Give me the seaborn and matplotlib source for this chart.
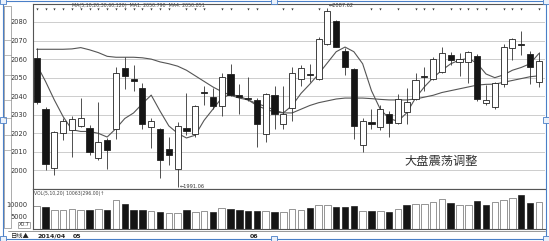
import numpy as np
import pandas as pd
import matplotlib
matplotlib.use("Agg")
import matplotlib.pyplot as plt
import seaborn as sns
from matplotlib.patches import Rectangle

# ---------------- data ----------------
opens = [2060.8, 2033.2, 2001.4, 2020.1, 2021.9, 2023.7, 2023.0, 2006.8, 2016.3, 2022.6,
         2055.0, 2049.2, 2044.4, 2023.5, 2022.6, 2011.5, 2001.0, 2023.0, 2019.9, 2042.1,
         2039.5, 2034.9, 2051.8, 2040.6, 2039.2, 2037.9, 2019.4, 2040.6, 2024.8, 2033.4,
         2049.2, 2051.9, 2049.2, 2068.0, 2080.7, 2064.4, 2054.5, 2013.6, 2026.3, 2023.5,
         2030.5, 2025.7, 2031.6, 2038.5, 2051.0, 2049.2, 2053.2, 2062.2, 2058.2, 2058.2,
         2061.7, 2036.3, 2034.0, 2046.4, 2066.2, 2068.1, 2062.6, 2047.4]
closes = [2036.7, 2003.4, 2020.5, 2026.6, 2027.5, 2028.4, 2010.0, 2015.3, 2010.9, 2052.7,
          2051.0, 2048.0, 2025.0, 2026.6, 2005.5, 2008.4, 2024.1, 2021.2, 2034.9, 2041.5,
          2034.9, 2050.3, 2040.6, 2039.5, 2038.3, 2024.9, 2041.0, 2030.4, 2030.2, 2052.7,
          2055.0, 2051.4, 2070.6, 2086.1, 2066.7, 2055.7, 2023.9, 2026.9, 2024.9, 2033.3,
          2025.4, 2038.3, 2036.7, 2048.5, 2050.4, 2059.9, 2063.1, 2059.5, 2060.0, 2064.0,
          2038.5, 2038.2, 2046.9, 2066.7, 2070.6, 2067.4, 2055.9, 2059.0]
highs = [2065.8, 2034.0, 2021.5, 2028.4, 2029.3, 2038.8, 2024.4, 2037.0, 2017.6, 2055.7,
         2061.1, 2057.0, 2047.0, 2028.0, 2023.0, 2018.1, 2026.2, 2042.0, 2035.2, 2045.5,
         2044.2, 2052.3, 2057.2, 2046.7, 2050.3, 2039.2, 2042.0, 2045.6, 2045.5, 2055.9,
         2056.8, 2057.2, 2071.7, 2087.62, 2081.0, 2066.2, 2055.0, 2028.0, 2033.0, 2035.2,
         2032.0, 2041.3, 2044.2, 2052.3, 2055.9, 2060.9, 2066.7, 2064.0, 2063.5, 2064.5,
         2062.6, 2046.0, 2047.4, 2068.0, 2071.2, 2075.3, 2064.5, 2064.0]
lows = [2036.0, 2000.0, 1997.4, 2016.3, 2007.0, 2023.3, 2008.2, 2005.5, 2001.0, 2016.7,
        2043.7, 2042.8, 2022.3, 2012.2, 1996.0, 2002.8, 1991.06, 2019.0, 2018.1, 2035.2,
        2033.0, 2029.5, 2040.3, 2030.5, 2037.6, 2012.7, 2015.4, 2022.3, 2022.6, 2026.6,
        2045.6, 2047.4, 2048.7, 2067.6, 2066.3, 2051.4, 2017.2, 2010.0, 2022.3, 2021.7,
        2018.1, 2025.0, 2025.0, 2037.9, 2042.8, 2048.7, 2052.3, 2056.8, 2051.0, 2046.9,
        2037.6, 2035.2, 2033.0, 2045.0, 2059.5, 2062.2, 2046.4, 2045.0]
ma_short = [2057.0, 2048.0, 2038.0, 2029.0, 2022.0, 2021.0, 2021.0, 2020.0, 2018.0, 2022.6,
            2028.0, 2031.0, 2036.0, 2040.6, 2032.0, 2024.0, 2020.0, 2017.5, 2019.0, 2027.0,
            2033.0, 2039.0, 2041.0, 2040.0, 2038.0, 2035.0, 2033.0, 2031.5, 2031.0, 2035.0,
            2041.5, 2046.5, 2052.0, 2058.0, 2064.0, 2066.5, 2064.0, 2057.5, 2043.0, 2033.0,
            2028.0, 2026.5, 2031.0, 2039.0, 2045.0, 2050.0, 2054.0, 2057.5, 2059.5, 2060.4,
            2057.7, 2052.0, 2050.0, 2051.5, 2054.0, 2055.5, 2057.5, 2063.0]
ma_long = [2065.3, 2065.3, 2065.3, 2065.3, 2065.5, 2066.2, 2065.0, 2063.5, 2061.5, 2061.0,
           2061.0, 2061.0, 2060.7, 2060.0, 2058.5, 2057.5, 2056.2, 2054.0, 2051.0, 2048.0,
           2045.0, 2042.5, 2040.5, 2039.0, 2038.0, 2036.0, 2034.5, 2032.5, 2031.0, 2031.0,
           2033.0, 2035.0, 2036.5, 2037.5, 2038.5, 2039.0, 2039.0, 2039.0, 2038.7, 2038.3,
           2038.0, 2038.0, 2038.0, 2038.5, 2039.5, 2040.5, 2042.0, 2043.0, 2044.0, 2045.0,
           2046.0, 2046.4, 2046.5, 2047.5, 2048.5, 2049.5, 2050.5, 2051.0]
volumes = [9300, 9000, 7800, 7800, 8200, 7700, 7700, 7900, 7800, 11900,
           9900, 7500, 7800, 7000, 6700, 6300, 6300, 7500, 6700, 7400,
           6800, 8400, 8200, 7800, 7400, 7400, 7100, 6700, 6600, 8100,
           7800, 8400, 9700, 9700, 8800, 8800, 9300, 7000, 7300, 7400,
           6800, 8200, 9600, 10000, 10000, 11100, 12300, 10500, 9700, 9700,
           11400, 9700, 10700, 11600, 12600, 13800, 10500, 10700]
vol_dir = ["up", "down", "up", "up", "up", "up", "down", "up", "down", "up",
           "down", "down", "down", "up", "down", "up", "up", "down", "up", "up",
           "down", "up", "down", "down", "down", "down", "up", "down", "up", "up",
           "up", "down", "up", "up", "down", "down", "down", "up", "down", "up",
           "down", "up", "down", "up", "up", "up", "up", "down", "up", "up",
           "down", "down", "up", "up", "up", "down", "down", "up"]
flag_idx = [0, 1, 2, 3, 4, 5, 6, 7, 8, 9, 10, 11, 12, 13, 14, 15, 17, 18, 19, 21, 22,
            24, 25, 28, 29, 32, 38, 39, 41, 43, 44, 45, 47, 48, 49, 50, 51, 53, 54, 55, 57]
price_ticks = [2000, 2010, 2020, 2030, 2040, 2050, 2060, 2070, 2080]
vol_ticks = [5000, 10000]
vol_tick_labels = ["5000", "10000"]
date_labels = ["2014/04", "05", "06"]
title_text = "大盘震荡调整"

# ---------------- figure ----------------
sns.set_theme(style="white")
plt.rcParams["font.family"] = ["DejaVu Sans", "Noto Sans CJK SC"]
W, H = 549, 241
fig = plt.figure(figsize=(W / 100, H / 100), dpi=100)
fig.patch.set_facecolor("white")

def fx(x):
    return x / W

def fy(y):
    return 1 - y / H

idx = np.arange(len(opens))
df = pd.DataFrame({"idx": idx, "open": opens, "close": closes, "high": highs, "low": lows,
                   "ma_s": ma_short, "ma_l": ma_long, "vol": volumes, "dir": vol_dir})

x_left, x_right = -0.42, 57.7

# price panel
ax = fig.add_axes([fx(33), fy(189), fx(512), 185 / H])
ax.set_xlim(x_left, x_right)
ax.set_ylim(1990.0, 2089.7)
for t in price_ticks:
    ax.axhline(t, color="#cdcdcd", lw=0.7, zorder=0)

sns.lineplot(data=df, x="idx", y="ma_l", color="#555555", lw=0.8, ax=ax, zorder=3)
sns.lineplot(data=df, x="idx", y="ma_s", color="#555555", lw=0.8, ax=ax, zorder=3)

up = df["close"] >= df["open"]
ax.vlines(df["idx"], df["low"], df["high"], color="#333333", lw=0.6, zorder=4)
bottoms = np.minimum(df["open"], df["close"])
heights = np.maximum(np.abs(df["close"] - df["open"]), 0.45)
colors = np.where(up, "white", "#151515")
ax.bar(df["idx"], heights, bottom=bottoms, width=0.7, color=colors,
       edgecolor="#222222", linewidth=0.6, zorder=5)

ax.scatter(flag_idx, [2087.0] * len(flag_idx), marker="v", s=2.5, color="#333333",
           linewidths=0, zorder=6)
ax.text(16.2, 1991.2, "←1991.06", fontsize=3.6, color="#333333", va="center", ha="left")
ax.text(33.2, 2088.9, "←2087.62", fontsize=3.6, color="#333333", va="center", ha="left")

ax.set_yticks(price_ticks)
ax.set_yticklabels([str(t) for t in price_ticks], fontsize=4.8, color="#333333")
ax.tick_params(axis="y", length=0, pad=4)
ax.set_xticks([])
ax.set_xlabel("")
ax.set_ylabel("")
ax.spines["right"].set_visible(False)
for s in ["left", "top", "bottom"]:
    ax.spines[s].set_color("#555555")
    ax.spines[s].set_linewidth(0.8)

# volume panel
axv = fig.add_axes([fx(33), fy(228.5), fx(512), 39.5 / H])
sns.barplot(data=df, x="idx", y="vol", native_scale=True, color="#ffffff", saturation=1,
            width=0.74, edgecolor="#5a5a5a", linewidth=0.45, errorbar=None, ax=axv)
for p in axv.patches:
    i = int(round(p.get_x() + p.get_width() / 2))
    if 0 <= i < len(vol_dir):
        if vol_dir[i] == "up":
            p.set_facecolor("#ffffff")
        else:
            p.set_facecolor("#151515")
            p.set_edgecolor("#151515")
axv.set_xlim(x_left, x_right)
axv.set_ylim(0, 16255)
axv.set_yticks(vol_ticks)
axv.set_yticklabels(vol_tick_labels, fontsize=4.8, color="#333333")
axv.tick_params(axis="y", length=0, pad=4)
axv.set_xticks([])
axv.set_xlabel("")
axv.set_ylabel("")
axv.spines["right"].set_visible(False)
for s in ["left", "top", "bottom"]:
    axv.spines[s].set_color("#555555")
    axv.spines[s].set_linewidth(0.8)

# texts
fig.text(fx(72), fy(6), "MA(5,10,20,30,60,120)  MA1: 2050.790  MA4: 2050.851",
         fontsize=3.4, color="#444444", va="center")
fig.text(fx(34), fy(193), "VOL(5,10,20) 10063(296.00)↑", fontsize=3.3, color="#444444",
         va="center")
fig.text(fx(441.5), fy(161), title_text, fontsize=8.8, color="#333333", ha="center",
         va="center", family=["Noto Sans CJK SC", "DejaVu Sans"])
fig.text(fx(11), fy(236.5), "日线▲", fontsize=4.5, color="#222222", va="center",
         family=["Noto Sans CJK SC", "DejaVu Sans"])
fig.text(fx(37), fy(236.5), date_labels[0], fontsize=4.5, color="#222222", va="center",
         fontweight="bold")
fig.text(fx(73), fy(236.5), date_labels[1], fontsize=4.5, color="#222222", va="center",
         fontweight="bold")
fig.text(fx(250), fy(236.5), date_labels[2], fontsize=4.5, color="#222222", va="center",
         fontweight="bold")
fig.text(fx(19), fy(225), "X0.7", fontsize=3.4, color="#333333", va="center",
         bbox=dict(boxstyle="square,pad=0.15", fc="white", ec="#666666", lw=0.4))

# bottom axis line
fig.add_artist(plt.Line2D([fx(8), fx(545)], [fy(231), fy(231)], color="#888888", lw=0.6))

# left toolbar strip
fig.add_artist(Rectangle((fx(4), fy(228)), fx(7), 222 / H, transform=fig.transFigure,
                         fill=False, ec="#8a8a8a", lw=0.5))
for yy in [40, 55, 75, 100, 118, 135, 150]:
    fig.add_artist(plt.Line2D([fx(4), fx(11)], [fy(yy), fy(yy)], color="#8a8a8a", lw=0.4))

# blue selection frame with handles
blue = "#4a7fc7"
fig.add_artist(Rectangle((fx(3), fy(239)), fx(543), 238 / H, transform=fig.transFigure,
                         fill=False, ec=blue, lw=0.8))
for (hx, hy) in [(3, 1), (274, 1), (546, 1), (546, 120), (546, 239), (274, 239),
                 (3, 239), (3, 120)]:
    fig.add_artist(Rectangle((fx(hx - 3), fy(hy + 3)), fx(6), 6 / H,
                             transform=fig.transFigure, fc="#eaf1fb", ec=blue, lw=0.6))

fig.savefig("out.png", dpi=100, facecolor="white")
